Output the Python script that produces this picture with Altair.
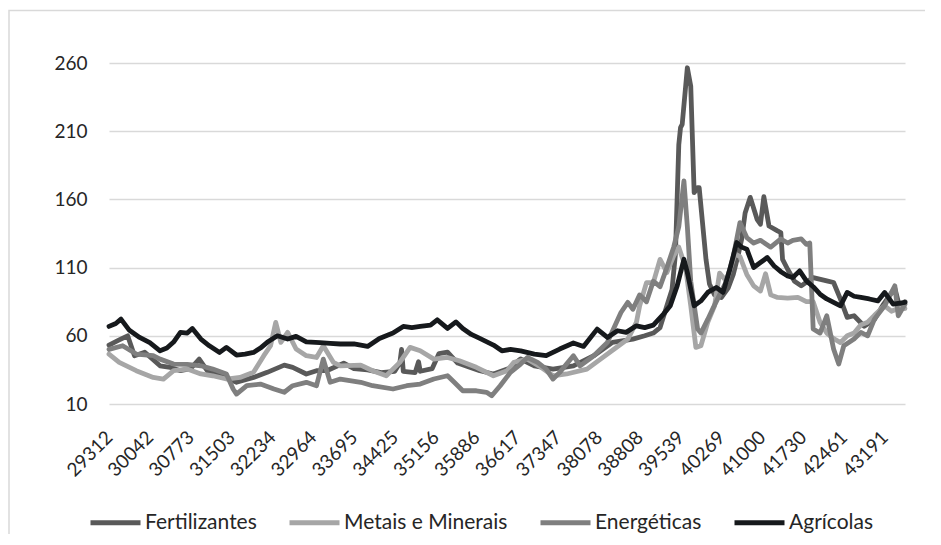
import altair as alt
import pandas as pd
from datetime import date

# month index counted from the first category (Excel serial 29312 = 1980-04-01)
fertilizantes = [(0,53.2),(6,57),(11,60),(15,45.4),(21,48),(30,38),(36,36.9),(42,34.4),(48,36),(53,42.9),
    (58,34),(66,30.5),(75,25.9),(85,29.5),(93,33.2),(103,38.5),(108,36.9),(116,32),(122,34.4),(128,34.4),
    (138,40),(144,36),(152,35),(160,33),(168,34),(171,40),(172,50),(173,34),(180,33),(182,41),(183,34),
    (190,36),(194,47),(199,48),(205,40),(212,37),(218,34.4),(226,32),(235,36),(242,43),(250,38),(261,35.6),
    (273,38),(285,45.4),(296,55.2),(308,57.6),(315,60),(320,62),(324,66),(328,82),(331,94),(333,120),
    (335,200),(336,212.6),(337,215),(340,256.5),(342,243),(344,165),(346,168.6),(347,168.6),(351,116),
    (353,98),(356,90),(360,88),(364,95),(367,105),(370,120),(372,131),(374,150),(377,161.5),(381,145.4),
    (383,141.8),(385,162),(388,140.5),(393,136.9),(395,135.7),(396,116),(399,108.8),(403,100),(407,96.6),
    (414,102.7),(422,100.3),(426,99.1),(430,86.9),(434,73.5),(438,74.7),(444,67),(450,72),(455,82.5),
    (462,95),(465,80),(468,85)]

metais = [(0,46.6),(6,40.5),(16,34.4),(26,29.5),(32,28.3),(38,34.4),(46,35.6),(54,32),(61,30.7),(69,28.3),
    (77,29.5),(85,33.2),(91,45.4),(95,52.7),(98,69.8),(101,55.2),(105,62.5),(110,50.3),(116,45.4),(122,44.1),
    (126,52.7),(132,40.5),(136,38),(148,38.5),(155,34.4),(163,30.7),(171,40.5),(177,51.5),(183,49),(191,42.9),
    (199,44.1),(206,41.7),(216,36.9),(226,30.7),(234,34.4),(238,40.5),(246,42.9),(254,36.9),(261,30.7),
    (269,32),(281,35.6),(289,42.9),(297,50.3),(305,57.6),(310,69.8),(312,82),(316,99),(320,99),(324,116),
    (328,106.4),(332,118.6),(335,125),(339,110),(342,82),(345,51.5),(348,52.7),(352,69.8),(356,82),
    (359,106),(363,100),(368,120),(371,118),(375,105),(379,96.6),(383,92.8),(386,105.5),(389,90),
    (393,88.1),(399,87.6),(405,88.1),(410,85),(414,85),(418,70),(422,62),(426,58),(430,55),(434,60),
    (438,62),(442,68),(446,70),(450,75),(456,82),(460,78),(464,80),(468,80)]

energeticas = [(0,50),(8,52.7),(16,46.6),(26,45.4),(30,42.9),(38,39.3),(46,39),(54,38),(61,35.6),(69,32),
    (73,21),(75,17.3),(81,23.4),(89,24.6),(97,21),(103,18.6),(108,23.4),(116,25.9),(122,23.4),(126,42.9),
    (130,25.9),(136,28.3),(148,25.9),(155,23.4),(167,21),(175,23.4),(183,24.6),(191,28.3),(199,30.7),
    (203,25.9),(208,19.7),(216,19.7),(222,18.6),(225,16.1),(230,23.4),(236,33.2),(242,39.3),(246,44.1),
    (252,40.5),(257,35.6),(261,28.3),(265,33.2),(273,45.4),(277,38),(285,45.4),(293,55.2),(301,77.1),
    (305,84.5),(308,79.5),(312,90),(316,85),(320,100),(324,96),(328,110),(332,125),(335,140),(338,173.5),
    (340,140),(342,100),(346,65),(348,62),(352,72),(355,80),(359,90),(363,100),(367,118),(371,143),
    (375,132),(379,128),(383,130),(389,125),(395,131),(399,128),(402,130),(407,131),(410,127),(412,128),
    (414,65),(418,62),(422,74.7),(426,50.3),(429,39.3),(432,52.7),(438,57.6),(442,62.5),(446,60),
    (450,72.2),(456,82),(462,96.6),(464,74.7),(468,83.2)]

agricolas = [(0,66.9),(4,69),(7,72.2),(12,64),(18,58.8),(24,55),(30,49),(34,51),(38,55.4),(42,62.5),
    (46,62),(49,65.4),(54,57.6),(59,52.7),(65,47.8),(69,51.5),(75,45.9),(80,46.5),(85,47.8),(89,51),
    (93,55.2),(99,60),(105,57.6),(110,59.6),(116,55.6),(124,55),(130,54.5),(136,54),(144,54),(152,52.2),
    (159,58.1),(167,62),(173,66.9),(178,66),(183,66.9),(189,67.8),(193,71.7),(199,65.4),(204,70.2),
    (208,65.4),(213,61),(218,58.1),(226,53.2),(231,49),(236,50),(242,49),(250,46.6),(257,45.4),(265,50.3),
    (273,54.7),(279,52.2),(287,64.9),(293,58.8),(299,63.7),(304,62.5),(310,67.3),(315,66),(320,67.8),
    (326,75.9),(330,82),(334,96.6),(338,116.1),(340,106.4),(344,82),(348,85.6),(352,91.8),(357,95.4),
    (361,91.8),(365,108.8),(369,128.4),(372,125),(375,123.5),(379,110.1),(383,113.7),(387,117.4),
    (391,111.2),(395,107),(399,103.9),(402,102.7),(406,107.6),(410,100.3),(414,96),(418,90.5),(422,87),
    (426,84.5),(430,82),(434,91.8),(438,89),(442,88.1),(447,87),(452,85.6),(456,91.8),(461,83.2),
    (465,84),(468,84.5)]

series_names = ["Fertilizantes", "Metais e Minerais", "Energéticas", "Agrícolas"]
series_data = [fertilizantes, metais, energeticas, agricolas]
series_colors = ["#595959", "#a6a6a6", "#7f7f7f", "#16191c"]

tick_labels = [29312, 30042, 30773, 31503, 32234, 32964, 33695, 34425, 35156, 35886,
               36617, 37347, 38078, 38808, 39539, 40269, 41000, 41730, 42461, 43191]
y_ticks = [10, 60, 110, 160, 210, 260]


def serial(m):
    y = 1980 + (3 + m) // 12
    mo = (3 + m) % 12 + 1
    return (date(y, mo, 1) - date(1899, 12, 30)).days


rows = []
for name, pts in zip(series_names, series_data):
    for m, v in pts:
        rows.append({"serie": name, "x": serial(m), "valor": v})
df = pd.DataFrame(rows)

font = "Lato"
xdom = [29312, serial(468)]

color = alt.Color(
    "serie:N",
    scale=alt.Scale(domain=series_names, range=series_colors),
    legend=alt.Legend(
        title=None, orient="none", legendX=-21, legendY=432, direction="horizontal",
        symbolType="stroke", symbolSize=2500, symbolStrokeWidth=5, labelFontSize=21,
        labelFont=font, labelColor="#262626", labelOffset=2, columnPadding=22,
        padding=0, labelLimit=400,
    ),
)

layers = []
frame = alt.Chart(pd.DataFrame({"a": [0]})).mark_rect(
    filled=False, stroke="#d9d9d9", strokeWidth=1.5
).encode(x=alt.value(-100), x2=alt.value(1000), y=alt.value(-52.5), y2=alt.value(700))
layers.append(frame)

for name in series_names:
    layers.append(
        alt.Chart(df).transform_filter(alt.datum.serie == name).mark_line(
            strokeWidth=4.8, strokeJoin="round", strokeCap="round"
        ).encode(
            x=alt.X("x:Q", scale=alt.Scale(domain=xdom, nice=False, zero=False),
                    axis=alt.Axis(values=tick_labels, format="d", title=None, grid=False,
                                  domain=False, ticks=False, labelAngle=-45, labelAlign="right",
                                  labelBaseline="middle", labelPadding=30, labelFontSize=19,
                                  labelFont=font, labelColor="#262626", labelOverlap=False,
                                  labelFlush=False)),
            y=alt.Y("valor:Q", scale=alt.Scale(domain=[10, 260], nice=False, zero=False),
                    axis=alt.Axis(values=y_ticks, title=None, domain=False, ticks=False,
                                  labelPadding=22, labelFontSize=19, labelFont=font,
                                  labelColor="#262626", gridColor="#d9d9d9", gridWidth=1.5)),
            color=color,
        )
    )

chart = alt.layer(*layers).properties(
    width=796, height=341,
    padding={"left": 101, "top": 55, "right": 20, "bottom": 130},
    autosize=alt.AutoSizeParams(type="none"),
).configure_view(stroke=None)

chart.save("out.html", embed_options={"renderer": "svg", "actions": False})
